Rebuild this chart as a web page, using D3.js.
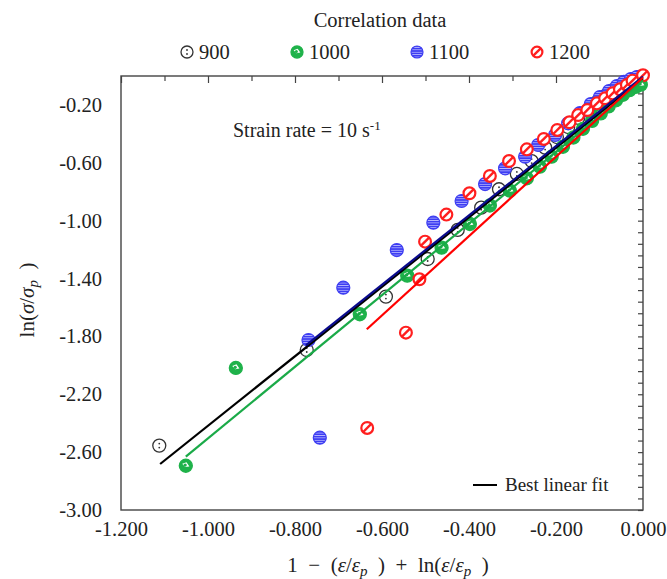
<!DOCTYPE html>
<html>
<head>
<meta charset="utf-8">
<script src="https://cdn.jsdelivr.net/npm/d3@7"></script>
<style>
  body { margin: 0; background: #fff; }
  svg { font-family: "Liberation Serif", "DejaVu Serif", serif; }
</style>
</head>
<body>
<div id="chart-container"></div>
<script>
// series
const temps = ['900', '1000', '1100', '1200'];

const x900 = [-1.112, -0.773, -0.591, -0.495, -0.426, -0.372, -0.331, -0.290, -0.256, -0.225, -0.198, -0.172, -0.149, -0.126, -0.106, -0.087, -0.069, -0.053, -0.037, -0.023, -0.009];
const y900 = [-2.555, -1.894, -1.525, -1.265, -1.064, -0.910, -0.783, -0.677, -0.588, -0.495, -0.422, -0.353, -0.290, -0.235, -0.180, -0.138, -0.097, -0.069, -0.041, -0.021, -0.007];

const x1000 = [-1.051, -0.936, -0.651, -0.542, -0.463, -0.398, -0.352, -0.306, -0.267, -0.237, -0.210, -0.184, -0.160, -0.138, -0.117, -0.097, -0.079, -0.062, -0.046, -0.031, -0.017, -0.005];
const y1000 = [-2.694, -2.018, -1.647, -1.380, -1.187, -1.023, -0.895, -0.793, -0.707, -0.627, -0.558, -0.489, -0.425, -0.365, -0.310, -0.258, -0.210, -0.168, -0.130, -0.098, -0.075, -0.060];

const x1100 = [-0.743, -0.769, -0.689, -0.566, -0.482, -0.417, -0.363, -0.317, -0.271, -0.241, -0.202, -0.172, -0.145, -0.120, -0.099, -0.078, -0.060, -0.044, -0.028, -0.014];
const y1100 = [-2.500, -1.825, -1.463, -1.203, -1.014, -0.864, -0.747, -0.638, -0.558, -0.477, -0.408, -0.327, -0.256, -0.194, -0.145, -0.104, -0.069, -0.041, -0.021, -0.007];

const x1200 = [-0.634, -0.545, -0.514, -0.501, -0.452, -0.399, -0.352, -0.308, -0.267, -0.228, -0.197, -0.169, -0.149, -0.128, -0.106, -0.087, -0.070, -0.053, -0.037, -0.024, 0.000];
const y1200 = [-2.433, -1.774, -1.405, -1.145, -0.958, -0.811, -0.691, -0.588, -0.507, -0.435, -0.373, -0.320, -0.270, -0.235, -0.189, -0.154, -0.120, -0.092, -0.062, -0.032, 0.005];

// best linear fits: [x start, y start], [x end, y end]
const fit900 = [[-1.110, -2.682], [0.000, -0.016]];
const fit1000 = [[-1.051, -2.631], [0.000, -0.030]];
const fit1100 = [[-0.775, -1.862], [0.000, -0.005]];
const fit1200 = [[-0.635, -1.751], [0.000, -0.010]];

const xTicks = [-1.2, -1.0, -0.8, -0.6, -0.4, -0.2, 0.0];
const yTicks = [-3.0, -2.6, -2.2, -1.8, -1.4, -1.0, -0.6, -0.2];

const colors = { '900': '#333333', '1000': '#1fb24a', '1100': '#3d3df2', '1200': '#ff1f1f' };
const lineColors = { '900': '#000000', '1000': '#1aaa48', '1100': '#0a0a8c', '1200': '#ff0000' };

const series = [
  { t: '900', xs: x900, ys: y900, fit: fit900 },
  { t: '1000', xs: x1000, ys: y1000, fit: fit1000 },
  { t: '1100', xs: x1100, ys: y1100, fit: fit1100 },
  { t: '1200', xs: x1200, ys: y1200, fit: fit1200 }
];

const W = 667, H = 579;
const plot = { left: 121, right: 643, top: 76, bottom: 510 };
const fontSize = 20.5;

const svg = d3.select('#chart-container')
  .append('svg')
  .attr('width', W)
  .attr('height', H);

const defs = svg.append('defs');
const stripes = defs.append('pattern')
  .attr('id', 'stripes')
  .attr('patternUnits', 'userSpaceOnUse')
  .attr('width', 4).attr('height', 2.4)
  .attr('y', 0.6);
stripes.append('rect').attr('width', 4).attr('height', 2.4).attr('fill', colors['1100']);
stripes.append('rect').attr('y', 1.6).attr('width', 4).attr('height', 0.8).attr('fill', '#b8b8ff');

const xScale = d3.scaleLinear().domain([-1.2, 0]).range([plot.left, plot.right]);
const yScale = d3.scaleLinear().domain([-3, 0]).range([plot.bottom, plot.top]);

// axes
const bottomAxis = svg.append('g')
  .attr('transform', `translate(0,${plot.bottom})`)
  .call(d3.axisBottom(xScale).tickValues(xTicks).tickSize(0).tickPadding(11).tickFormat(d => d.toFixed(3)));
bottomAxis.select('.domain').remove();
bottomAxis.selectAll('text').attr('font-size', fontSize).attr('fill', '#222')
  .style('font-family', '"Liberation Serif", serif');

const leftAxis = svg.append('g')
  .attr('transform', `translate(${plot.left},0)`)
  .call(d3.axisLeft(yScale).tickValues(yTicks).tickSize(0).tickPadding(19).tickFormat(d => d.toFixed(2)));
leftAxis.select('.domain').remove();
leftAxis.selectAll('text').attr('font-size', fontSize).attr('fill', '#222')
  .style('font-family', '"Liberation Serif", serif');

const topTicks = d3.range(13).map(i => -1.2 + i * 0.1);
const topAxis = svg.append('g')
  .attr('transform', `translate(0,${plot.top})`)
  .call(d3.axisTop(xScale).tickValues(topTicks).tickSize(-5).tickFormat(''));
topAxis.select('.domain').remove();
topAxis.selectAll('line').attr('stroke', '#444').attr('stroke-width', 1.2)
  .attr('y2', (d, i) => i % 2 === 0 ? 7 : 5);

const rightTicks = d3.range(37).map(i => -3 + i * 0.08);
const rightAxis = svg.append('g')
  .attr('transform', `translate(${plot.right},0)`)
  .call(d3.axisRight(yScale).tickValues(rightTicks).tickSize(-5).tickFormat(''));
rightAxis.select('.domain').remove();
rightAxis.selectAll('line').attr('stroke', '#444').attr('stroke-width', 1.2);

svg.append('rect')
  .attr('x', plot.left).attr('y', plot.top)
  .attr('width', plot.right - plot.left).attr('height', plot.bottom - plot.top)
  .attr('fill', 'none').attr('stroke', '#444').attr('stroke-width', 1.4);

// marker drawing
function drawMarker(g, t, r) {
  const c = colors[t];
  if (t === '900') {
    g.append('circle').attr('r', r).attr('fill', '#fff').attr('stroke', c).attr('stroke-width', 1.3);
    g.append('circle').attr('cy', -2).attr('r', 0.9).attr('fill', c);
    g.append('circle').attr('cy', 2).attr('r', 0.9).attr('fill', c);
  } else if (t === '1000') {
    g.append('circle').attr('r', r).attr('fill', c).attr('stroke', c).attr('stroke-width', 1.3);
    g.append('path').attr('d', `M${-r * 0.55},${-r * 0.3} L${r * 0.1},${-r * 0.55} L${r * 0.55},${r * 0.1} L${-r * 0.1},${r * 0.2} Z`)
      .attr('fill', '#fff');
    g.append('circle').attr('r', r * 0.25).attr('cx', -r * 0.1).attr('cy', -r * 0.1).attr('fill', c);
  } else if (t === '1100') {
    g.append('circle').attr('r', r).attr('fill', 'url(#stripes)').attr('stroke', c).attr('stroke-width', 1.2);
  } else {
    g.append('circle').attr('r', r - 0.6).attr('fill', '#fff').attr('stroke', c).attr('stroke-width', 2.2);
    const k = (r - 0.8) * Math.SQRT1_2;
    g.append('line').attr('x1', k).attr('y1', -k).attr('x2', -k).attr('y2', k)
      .attr('stroke', c).attr('stroke-width', 2.4);
  }
}

// points
series.forEach(s => {
  const pts = s.xs.map((v, i) => [v, s.ys[i]]);
  svg.append('g').selectAll('g')
    .data(pts)
    .enter().append('g')
    .attr('transform', d => `translate(${xScale(d[0])},${yScale(d[1])})`)
    .each(function() { drawMarker(d3.select(this), s.t, 6.5); });
});

// fit lines
const line = d3.line().x(d => xScale(d[0])).y(d => yScale(d[1]));
series.forEach(s => {
  svg.append('path')
    .attr('d', line(s.fit))
    .attr('fill', 'none')
    .attr('stroke', lineColors[s.t])
    .attr('stroke-width', 2.2);
});

// legend
svg.append('text')
  .attr('x', 380).attr('y', 27)
  .attr('text-anchor', 'middle')
  .attr('font-size', fontSize).attr('fill', '#222')
  .text('Correlation data');

const legendX = [187, 297, 417, 537];
temps.forEach((t, i) => {
  const g = svg.append('g').attr('transform', `translate(${legendX[i]},52)`);
  drawMarker(g, t, 6);
  svg.append('text')
    .attr('x', legendX[i] + 12).attr('y', 59)
    .attr('font-size', fontSize).attr('fill', '#222')
    .text(t);
});

// annotation
const ann = svg.append('text')
  .attr('x', 233).attr('y', 137)
  .attr('font-size', 20).attr('fill', '#222');
ann.append('tspan').text('Strain rate = 10 s');
ann.append('tspan').attr('dy', -7).attr('font-size', 13).text('-1');

// best fit legend
svg.append('line')
  .attr('x1', 473).attr('x2', 497).attr('y1', 485).attr('y2', 485)
  .attr('stroke', '#000').attr('stroke-width', 2);
svg.append('text')
  .attr('x', 505).attr('y', 491)
  .attr('font-size', 19).attr('fill', '#222')
  .text('Best linear fit');

// axis titles
const xt = svg.append('text')
  .attr('x', 388).attr('y', 572)
  .attr('text-anchor', 'middle')
  .attr('font-size', 21).attr('fill', '#222');
xt.append('tspan').text('1\u2002−\u2002(');
xt.append('tspan').attr('font-style', 'italic').text('ε');
xt.append('tspan').text('/');
xt.append('tspan').attr('font-style', 'italic').text('ε');
xt.append('tspan').attr('font-style', 'italic').attr('font-size', 15).attr('dy', 4).text('p');
xt.append('tspan').attr('dy', -4).text('\u2002)\u2002+\u2002ln(');
xt.append('tspan').attr('font-style', 'italic').text('ε');
xt.append('tspan').text('/');
xt.append('tspan').attr('font-style', 'italic').text('ε');
xt.append('tspan').attr('font-style', 'italic').attr('font-size', 15).attr('dy', 4).text('p');
xt.append('tspan').attr('dy', -4).text('\u2002)');

const yt = svg.append('text')
  .attr('transform', `translate(34,300) rotate(-90)`)
  .attr('text-anchor', 'middle')
  .attr('font-size', 21).attr('fill', '#222');
yt.append('tspan').text('ln(');
yt.append('tspan').attr('font-style', 'italic').text('σ');
yt.append('tspan').text('/');
yt.append('tspan').attr('font-style', 'italic').text('σ');
yt.append('tspan').attr('font-style', 'italic').attr('font-size', 15).attr('dy', 4).text('p');
yt.append('tspan').attr('dy', -4).text('\u2002)');
</script>
</body>
</html>
